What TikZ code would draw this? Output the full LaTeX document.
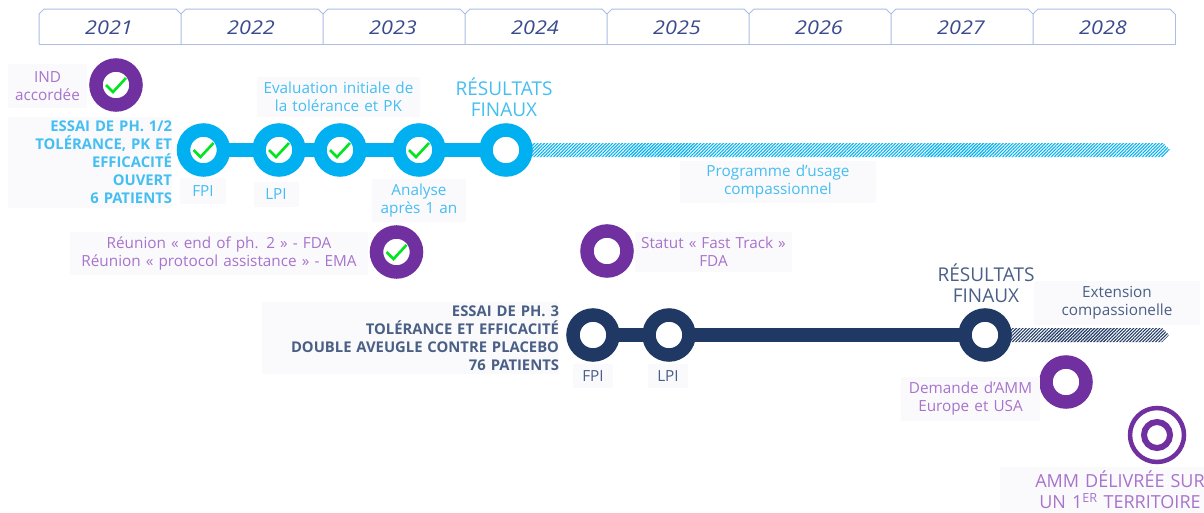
\documentclass[tikz,border=0pt]{standalone}
\usepackage{fontspec}
\setmainfont{Open Sans}
\newfontfamily\anfont[FakeStretch=1.14]{Open Sans}
\usetikzlibrary{patterns.meta}

\definecolor{bleu}{HTML}{00B0F0}
\definecolor{violet}{HTML}{7030A0}
\definecolor{marine}{HTML}{1F3864}
\definecolor{vert}{HTML}{00E61E}
\definecolor{fond}{HTML}{FAFAFC}
\definecolor{bordan}{HTML}{ABBDE3}
\definecolor{textan}{HTML}{3A4A8C}
\definecolor{textbleu}{HTML}{45BEF2}
\definecolor{textviolet}{HTML}{A873CC}
\definecolor{textmarine}{HTML}{4A5F85}

\tikzset{
  anneau/.style={circle, draw=#1, fill=white, line width=13.5pt, minimum size=40pt, inner sep=0pt, outer sep=0pt},
  lien/.style={line width=13.5pt, #1},
  coche/.pic={\draw[vert, line width=2.6pt] (-10,0) -- (-3,7) -- (10,-7);},
  etiq/.style={fill=fond, inner sep=0pt, align=center, font=\fontsize{15.3}{18}\selectfont},
  titre/.style={fill=fond, inner sep=0pt, align=right, font=\fontsize{14.8}{18}\selectfont\bfseries},
  grand/.style={inner sep=0pt, align=center, font=\fontsize{19}{21}\selectfont},
}

\begin{document}
\begin{tikzpicture}[x=1pt, y=-1pt]
    \useasboundingbox (0,0) rectangle (1204,512);

    % Annees
    \draw[bordan, line width=1pt] (1175,14) -- (1175,44) -- (39,44);
    \foreach \x/\val in {39/2021, 181/2022, 323/2023, 465/2024, 607/2025, 749/2026, 891/2027, 1033/2028} {
        \draw[bordan, line width=1pt] (\x,44) -- (\x,14) -- (\x+5,9) -- (\x+137,9) -- (\x+142,14);
        \node[text=textan, font=\fontsize{19}{20}\selectfont\anfont\itshape] (an\val) at (\x+70,28) {\val};
    }

    % Etude de phase 1/2
    \node[anneau=bleu] (fpiA) at (203.5,150) {};
    \node[anneau=bleu] (lpiA) at (279,150) {};
    \node[anneau=bleu] (evalA) at (340,150) {};
    \node[anneau=bleu] (anaA) at (419,150) {};
    \node[anneau=bleu] (resA) at (506,150) {};
    \draw[lien=bleu] (fpiA) -- (lpiA);
    \draw[lien=bleu] (lpiA) -- (evalA);
    \draw[lien=bleu] (evalA) -- (anaA);
    \draw[lien=bleu] (anaA) -- (resA);
    \foreach \n in {fpiA, lpiA, evalA, anaA} {
        \pic at (\n) {coche};
    }
    \coordinate (finA) at (1170,150);
    \path[pattern={Lines[angle=45, distance=2.3pt, line width=1.1pt]}, pattern color=bleu]
        ([xshift=6pt, yshift=-7pt]resA.east) -- ([xshift=-7pt, yshift=-7pt]finA) -- (finA)
        -- ([xshift=-7pt, yshift=7pt]finA) -- ([xshift=6pt, yshift=7pt]resA.east) -- cycle;

    \node[titre, text=textbleu, text width=164pt, minimum height=91pt] (essaiA) at (90,162.5)
        {ESSAI DE PH. 1/2\\TOLÉRANCE, PK ET\\EFFICACITÉ\\OUVERT\\6 PATIENTS};
    \node[etiq, text=textbleu, minimum width=46pt, minimum height=26pt] (lblFpiA) at (203,191) {FPI};
    \node[etiq, text=textbleu, minimum width=45pt, minimum height=25pt] (lblLpiA) at (276,194) {LPI};
    \node[etiq, text=textbleu, text width=163pt, minimum height=40pt] (lblEval) at (338.5,97)
        {Evaluation initiale de\\la tolérance et PK};
    \node[etiq, text=textbleu, text width=94pt, minimum height=43pt] (lblAna) at (419,200.5)
        {Analyse\\après 1 an};
    \node[grand, text=textbleu] (lblResA) at (504,97) {RÉSULTATS\\FINAUX};
    \node[etiq, text=textbleu, text width=196pt, minimum height=42pt] (lblProg) at (778,182)
        {Programme d’usage\\compassionnel};

    % Etude de phase 3
    \node[anneau=marine] (fpiB) at (593,335) {};
    \node[anneau=marine] (lpiB) at (669,335) {};
    \node[anneau=marine] (resB) at (985,335) {};
    \draw[lien=marine] (fpiB) -- (lpiB);
    \draw[lien=marine] (lpiB) -- (resB);
    \coordinate (finB) at (1169,335);
    \path[pattern={Lines[angle=45, distance=2.3pt, line width=1.1pt]}, pattern color=marine]
        ([xshift=6pt, yshift=-7pt]resB.east) -- ([xshift=-7pt, yshift=-7pt]finB) -- (finB)
        -- ([xshift=-7pt, yshift=7pt]finB) -- ([xshift=6pt, yshift=7pt]resB.east) -- cycle;

    \node[titre, text=textmarine, text width=297pt, minimum height=72pt] (essaiB) at (410.5,338)
        {ESSAI DE PH. 3\\TOLÉRANCE ET EFFICACITÉ\\DOUBLE AVEUGLE CONTRE PLACEBO\\76 PATIENTS};
    \node[etiq, text=textmarine, minimum width=40pt, minimum height=24pt] (lblFpiB) at (593,376) {FPI};
    \node[etiq, text=textmarine, minimum width=40pt, minimum height=24pt] (lblLpiB) at (668,376) {LPI};
    \node[grand, text=textmarine] (lblResB) at (986,283) {RÉSULTATS\\FINAUX};
    \node[etiq, text=textmarine, text width=166pt, minimum height=44pt] (lblExt) at (1117,303)
        {Extension\\compassionelle};

    % Jalons reglementaires
    \node[anneau=violet] (ind) at (116,85) {};
    \pic at (ind) {coche};
    \node[etiq, text=textviolet, text width=79pt, minimum height=44pt] (lblInd) at (47.5,86)
        {IND\\accordée};
    \node[anneau=violet] (reunion) at (396.5,252) {};
    \pic at (reunion) {coche};
    \node[etiq, text=textviolet, text width=298pt, minimum height=43pt] (lblReunion) at (219,253)
        {Réunion « end of ph. 2 » - FDA\\Réunion « protocol assistance » - EMA};
    \node[anneau=violet] (fast) at (607,251) {};
    \node[etiq, text=textviolet, text width=157pt, minimum height=40pt] (lblFast) at (713.5,252)
        {Statut « Fast Track »\\FDA};
    \node[anneau=violet] (demande) at (1066,382) {};
    \node[etiq, text=textviolet, text width=139pt, minimum height=44pt] (lblDemande) at (970.5,399)
        {Demande d’AMM\\Europe et USA};

    % Autorisation
    \node[circle, draw=violet, fill=white, line width=4.5pt, minimum size=54pt, inner sep=0pt] (amm) at (1157,435) {};
    \node[circle, draw=violet, fill=white, line width=6pt, minimum size=26pt, inner sep=0pt] (ammin) at (amm) {};
    \node[grand, fill=fond, text=textviolet, text width=240pt, minimum height=45pt, font=\fontsize{18}{21}\selectfont] (lblAmm) at (1120,489.5)
        {AMM DÉLIVRÉE SUR\\UN 1\textsuperscript{ER} TERRITOIRE};
\end{tikzpicture}
\end{document}
